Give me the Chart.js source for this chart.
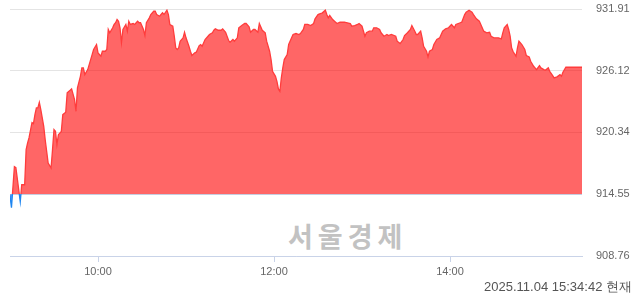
<!DOCTYPE html>
<html>
<head>
<meta charset="utf-8">
<script src="https://cdn.jsdelivr.net/npm/chart.js@4/dist/chart.umd.min.js"></script>
<style>
  html, body { margin: 0; padding: 0; background: #fff; }
  #wrap { position: relative; width: 640px; height: 294px; overflow: hidden; }
  #chart { position: absolute; left: 0; top: 0; }
  #mark {
    position: absolute; left: 288px; top: 216px; letter-spacing: 5px;
    font: bold 27px "Noto Sans CJK KR", sans-serif; color: #c2c2c2;
  }
  #stamp {
    position: absolute; right: 8px; top: 278px;
    font: 13px "Liberation Sans", Arial, sans-serif; color: #555;
  }
</style>
</head>
<body>
<div id="wrap">
  <div id="mark">서울경제</div>
  <canvas id="chart" width="640" height="294"></canvas>
  <div id="stamp">2025.11.04 15:34:42 현재</div>
</div>
<script>
// intraday index
const times = ['09:00','09:01','09:03','09:04','09:07','09:08','09:10','09:11','09:12','09:13',
  '09:15','09:16','09:17','09:18','09:19','09:20','09:21','09:23','09:24','09:25',
  '09:26','09:28','09:29','09:30','09:31','09:32','09:33','09:35','09:36','09:38',
  '09:39','09:41','09:42','09:44','09:45','09:46','09:48','09:49','09:50','09:51',
  '09:53','09:54','09:56','09:57','09:59','10:00','10:02','10:03','10:05','10:06',
  '10:07','10:08','10:10','10:11','10:12','10:13','10:14','10:15','10:16','10:17',
  '10:19','10:20','10:21','10:22','10:24','10:25','10:27','10:28','10:29','10:31',
  '10:32','10:33','10:35','10:36','10:38','10:39','10:40','10:42','10:43','10:44',
  '10:45','10:47','10:48','10:49','10:51','10:52','10:53','10:54','10:55','10:56',
  '10:58','10:59','11:00','11:02','11:03','11:04','11:06','11:07','11:09','11:10',
  '11:11','11:13','11:15','11:16','11:18','11:19','11:20','11:22','11:24','11:25',
  '11:27','11:29','11:30','11:32','11:33','11:35','11:36','11:38','11:40','11:41',
  '11:43','11:44','11:46','11:47','11:49','11:50','11:52','11:54','11:55','11:57',
  '11:58','11:59','12:01','12:02','12:03','12:04','12:05','12:06','12:07','12:09',
  '12:10','12:12','12:13','12:15','12:17','12:18','12:20','12:21','12:23','12:25',
  '12:27','12:28','12:30','12:32','12:33','12:35','12:36','12:37','12:38','12:40',
  '12:42','12:43','12:45','12:48','12:50','12:52','12:53','12:55','12:57','12:58',
  '13:00','13:01','13:02','13:03','13:05','13:07','13:08','13:10','13:12','13:13',
  '13:15','13:17','13:18','13:20','13:23','13:24','13:26','13:28','13:29','13:31',
  '13:33','13:34','13:36','13:37','13:38','13:40','13:41','13:42','13:44','13:45',
  '13:46','13:48','13:49','13:51','13:53','13:55','13:57','13:59','14:01','14:03',
  '14:04','14:07','14:08','14:10','14:11','14:13','14:15','14:16','14:18','14:20',
  '14:21','14:23','14:25','14:27','14:28','14:30','14:32','14:33','14:35','14:36',
  '14:37','14:39','14:40','14:41','14:42','14:43','14:45','14:46','14:47','14:49',
  '14:51','14:52','14:54','14:55','14:57','14:58','14:59','15:01','15:02','15:04',
  '15:05','15:07','15:08','15:10','15:11','15:13','15:15','15:16','15:17','15:19',
  '15:21','15:30'];

const values = [914.41,913.28,917.13,917.04,913.85,915.44,915.44,918.73,919.35,919.85,
  921.26,921.17,922.01,922.64,922.64,923.16,922.48,920.91,919.66,918.57,
  917.48,917.01,918.73,920.60,920.44,919.19,920.13,920.44,922.01,922.23,
  924.05,924.29,924.42,923.42,922.32,924.52,925.60,926.39,926.39,925.76,
  926.23,926.70,927.64,928.11,928.58,927.80,927.48,927.95,927.95,928.11,
  929.99,929.68,930.15,930.46,930.62,930.92,930.76,930.15,928.74,929.99,
  930.46,929.83,930.76,930.46,930.55,930.46,930.76,930.62,930.62,929.99,
  929.42,930.62,931.08,931.39,931.70,931.70,931.39,931.23,931.39,931.55,
  931.39,931.80,931.39,930.46,930.30,929.36,928.27,928.11,928.27,928.89,
  929.21,929.73,929.21,928.42,927.95,927.55,927.80,927.86,928.48,928.58,
  928.42,929.05,929.36,929.52,929.68,929.92,930.05,929.92,929.92,930.05,
  929.73,928.98,928.79,929.05,928.89,929.21,930.15,930.36,930.55,930.55,
  930.24,929.73,929.99,929.99,929.73,930.55,929.92,929.68,928.89,927.95,
  927.17,926.07,925.60,925.13,924.42,924.20,925.45,926.39,927.17,927.64,
  928.58,929.21,929.52,929.61,929.52,929.61,929.99,930.46,930.46,930.36,
  930.55,930.99,931.39,931.49,931.55,931.80,931.39,931.08,931.30,930.92,
  930.67,930.55,930.67,930.67,930.62,930.55,930.30,930.36,930.46,930.55,
  930.30,929.83,929.36,929.68,929.83,929.83,930.15,930.15,929.99,929.68,
  929.36,929.52,929.42,929.52,929.36,928.89,928.67,929.05,929.42,929.68,
  929.99,930.36,929.83,929.52,929.52,929.83,929.21,928.42,927.95,927.42,
  927.95,928.11,928.58,929.05,929.21,929.83,930.05,930.15,930.46,930.15,
  930.46,930.62,930.67,931.39,931.61,931.80,931.61,931.39,930.99,930.76,
  930.46,929.83,929.68,929.73,929.36,929.21,929.21,929.21,929.11,929.68,
  930.15,930.46,929.99,929.36,928.27,927.92,927.48,928.27,928.89,928.58,
  928.11,927.55,927.42,927.01,926.54,926.39,926.23,926.61,926.39,926.23,
  926.17,926.39,926.07,925.67,925.45,925.55,925.76,925.60,925.98,926.45,
  926.45,926.45];

const yTicks = [908.76, 914.55, 920.34, 926.12, 931.91];
const xTickLabels = ['10:00', '12:00', '14:00'];
const prevClose = 914.55;

// minutes after 09:00
const toMin = (t) => {
  const p = t.split(':');
  return (parseInt(p[0]) - 9) * 60 + parseInt(p[1]);
}

const points = times.map((t, i) => ({ x: toMin(t), y: values[i] }));

const lineColor = (ctx) => {
  const chart = ctx.chart;
  const area = chart.chartArea;
  if (!area) return '#ff3c3c';
  const y0 = chart.scales.y.getPixelForValue(prevClose);
  const r = Math.min(Math.max((y0 - area.top) / (area.bottom - area.top), 0), 1);
  const g = chart.ctx.createLinearGradient(0, area.top, 0, area.bottom);
  g.addColorStop(0, '#ff3c3c');
  g.addColorStop(r, '#ff3c3c');
  g.addColorStop(r, '#1f86f0');
  g.addColorStop(1, '#1f86f0');
  return g;
}

const config = {
  type: 'line',
  data: {
    datasets: [{
      data: points,
      borderColor: lineColor,
      borderWidth: 1.3,
      pointRadius: 0,
      tension: 0,
      fill: {
        target: { value: prevClose },
        above: 'rgba(255, 0, 0, 0.6)',
        below: 'rgba(20, 120, 255, 0.75)'
      }
    }]
  },
  options: {
    responsive: false,
    animation: false,
    layout: { padding: { left: 10, top: 9, right: 0, bottom: 0 } },
    plugins: { legend: { display: false }, tooltip: { enabled: false } },
    scales: {
      x: {
        type: 'linear',
        min: 0,
        max: 390,
        afterBuildTicks: (s) => {
          s.ticks = xTickLabels.map(t => ({ value: toMin(t) }));
        },
        afterFit: (s) => { s.height = 38; },
        ticks: {
          autoSkip: false,
          maxRotation: 0,
          padding: 3,
          color: '#666',
          font: { family: 'Liberation Sans, Arial, sans-serif', size: 11 },
          callback: (v) => {
            const h = 9 + Math.floor(v / 60);
            const m = v % 60;
            return h + ':' + (m < 10 ? '0' + m : m);
          }
        },
        grid: { drawOnChartArea: false, tickLength: 6, color: '#c9d3e8' },
        border: { color: '#c9d3e8' }
      },
      y: {
        position: 'right',
        min: 908.76,
        max: 931.91,
        afterBuildTicks: (s) => {
          s.ticks = yTicks.map(v => ({ value: v }));
        },
        // tick padding would otherwise push the plot top down
        afterFit: (s) => { s.width = 58; s.paddingTop = 0; s.paddingBottom = 0; },
        ticks: {
          padding: 14,
          color: '#666',
          font: { family: 'Liberation Sans, Arial, sans-serif', size: 11 },
          callback: (v) => v.toFixed(2)
        },
        grid: { color: '#e4e4e4', drawTicks: false },
        border: { display: false }
      }
    }
  }
}

const chart = new Chart(document.getElementById('chart'), config);
</script>
</body>
</html>
